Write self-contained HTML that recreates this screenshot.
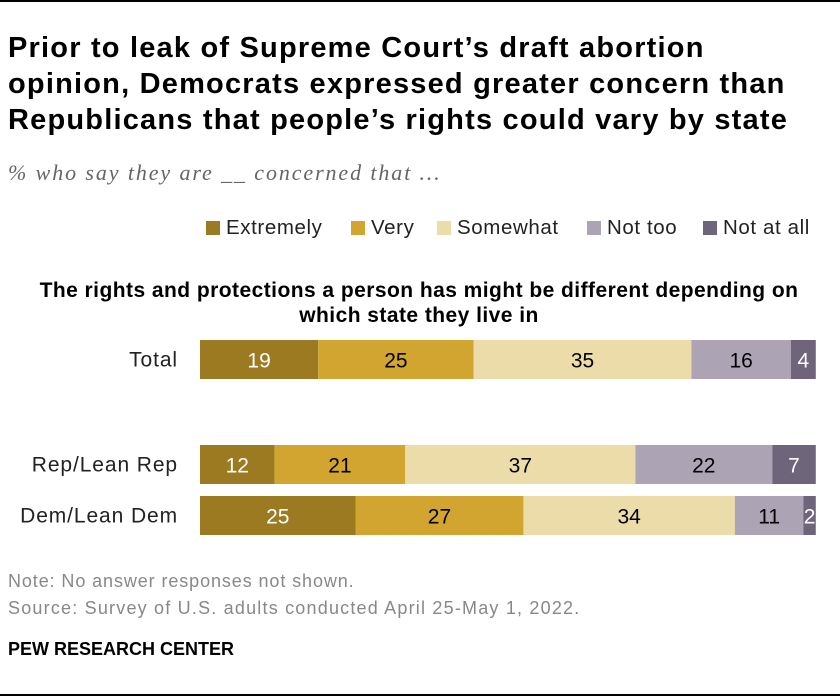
<!DOCTYPE html>
<html><head><meta charset="utf-8"><style>
body{margin:0;width:840px;height:696px;background:#fff;font-family:"Liberation Sans",sans-serif;position:relative;overflow:hidden}
.a{position:absolute;white-space:nowrap}
h1{position:absolute;left:8px;top:30px;margin:0;font-size:29px;letter-spacing:1.2px;line-height:36px;font-weight:bold;color:#000}
.leg{position:absolute;top:216px;font-size:20.5px;letter-spacing:0.6px;color:#222;display:flex;align-items:center}
.leg i{display:inline-block;width:14px;height:14px;margin-right:6px}
.line{position:absolute;left:0;width:840px;height:2px;background:#000}
</style></head><body>
<div class="line" style="top:0"></div>
<h1>Prior to leak of Supreme Court’s draft abortion<br>opinion, Democrats expressed greater concern than<br>Republicans that people’s rights could vary by state</h1>
<div class="a" style="left:8px;top:160px;font-size:22px;letter-spacing:1.9px;font-style:italic;color:#666;font-family:'Liberation Serif',serif">% who say they are __ concerned that …</div>
<div class="leg" style="left:206px"><i style="background:#9c7a22"></i>Extremely</div>
<div class="leg" style="left:351px"><i style="background:#d1a52f"></i>Very</div>
<div class="leg" style="left:437px"><i style="background:#ebdcaa"></i>Somewhat</div>
<div class="leg" style="left:587px"><i style="background:#aca4b4"></i>Not too</div>
<div class="leg" style="left:703px"><i style="background:#6f657b"></i>Not at all</div>
<div class="a" style="left:0;width:838px;text-align:center;top:278px;font-size:21px;letter-spacing:0.45px;font-weight:bold;line-height:25px;white-space:normal">The rights and protections a person has might be different depending on<br>which state they live in</div>
<svg id="chart" class="a" style="left:0;top:0" width="840" height="696"></svg>
<div class="a" style="left:8px;top:571px;font-size:18px;letter-spacing:0.9px;color:#888">Note: No answer responses not shown.</div>
<div class="a" style="left:8px;top:598px;font-size:18px;letter-spacing:1.2px;color:#888">Source: Survey of U.S. adults conducted April 25-May 1, 2022.</div>
<div class="a" style="left:8px;top:639px;font-size:18px;font-weight:bold;color:#000">PEW RESEARCH CENTER</div>
<div class="line" style="top:694px"></div>
<script>
const categories=["Total","Rep/Lean Rep","Dem/Lean Dem"];
const extremely=[19,12,25];
const very=[25,21,27];
const somewhat=[35,37,34];
const notToo=[16,22,11];
const notAtAll=[4,7,2];
const series=[extremely,very,somewhat,notToo,notAtAll];
const colors=["#9c7a22","#d1a52f","#ebdcaa","#aca4b4","#6f657b"];
const textColors=["#fff","#000","#000","#000","#fff"];
const names=["extremely","very","somewhat","not-too","not-at-all"];
const rowY=[340,445,496],barH=39,x0=200,unit=6.22;
const X=v=>x0+v*unit;
const svg=document.getElementById('chart');
const NS="http://www.w3.org/2000/svg";
categories.forEach((c,i)=>{
  const t=document.createElementNS(NS,'text');
  
  
  t.setAttribute('x',178);t.setAttribute('y',rowY[i]+barH/2+7);
  t.setAttribute('text-anchor','end');t.setAttribute('font-size','21');t.setAttribute('letter-spacing','0.9');t.setAttribute('fill','#222');
  t.textContent=c;svg.appendChild(t);
  let cum=0;
  series.forEach((s,k)=>{
    const v=s[i];
    const r=document.createElementNS(NS,'rect');
    
    
    r.setAttribute('x',X(cum));r.setAttribute('y',rowY[i]);
    r.setAttribute('width',v*unit);r.setAttribute('height',barH);
    r.setAttribute('fill',colors[k]);svg.appendChild(r);
    const l=document.createElementNS(NS,'text');
    
    
    l.setAttribute('x',X(cum+v/2));l.setAttribute('y',rowY[i]+barH/2+8);
    l.setAttribute('text-anchor','middle');l.setAttribute('font-size','21');l.setAttribute('fill',textColors[k]);
    l.textContent=v;svg.appendChild(l);
    cum+=v;
  });
});
</script>
</body></html>
